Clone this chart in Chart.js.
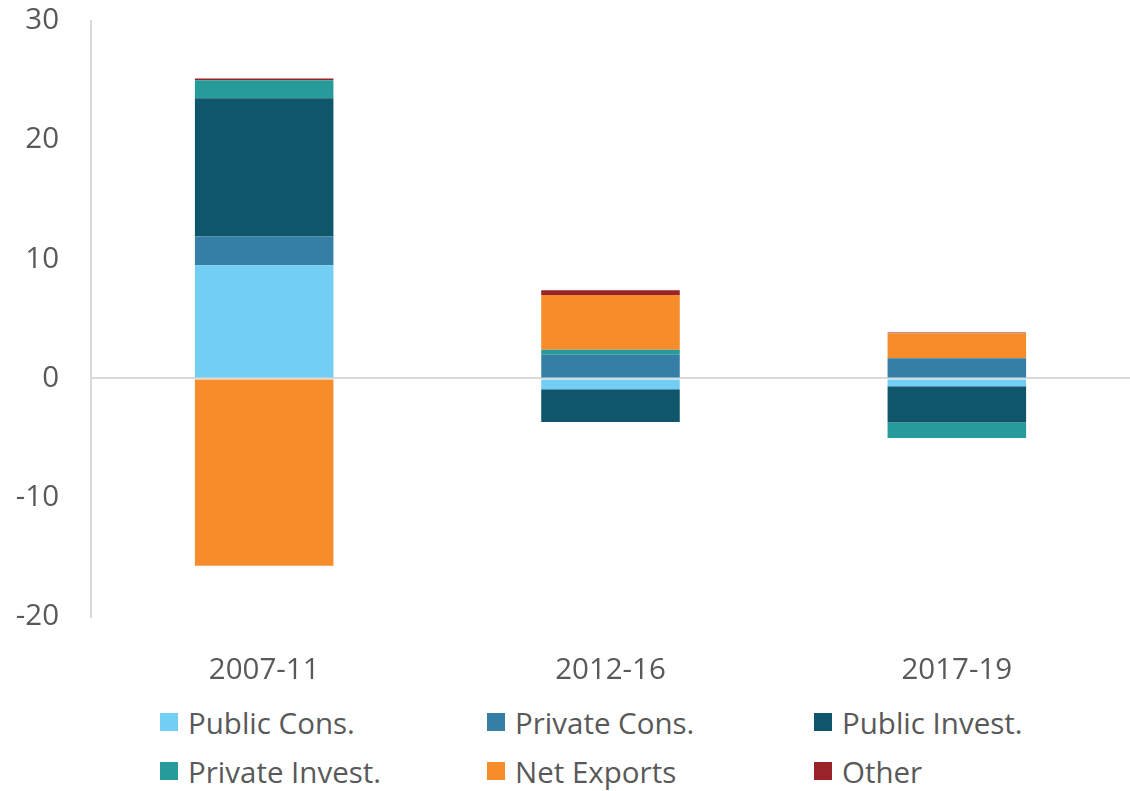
<!DOCTYPE html>
<html>
<head>
<meta charset="utf-8">
<script src="https://cdn.jsdelivr.net/npm/chart.js@4"></script>
<style>
  body { margin: 0; background: #fff; }
  #wrap { position: relative; width: 1130px; height: 791px; overflow: hidden; }
  #chart { position: absolute; left: 0; top: -29px; }
  #legend { position: absolute; left: 160px; top: 701px; display: grid;
    grid-template-columns: 327px 327px 327px; row-gap: 7px;
    font-family: "Open Sans", sans-serif; font-size: 29.5px; color: #595959; }
  .item { display: flex; align-items: center; height: 42px; }
  .box { width: 18px; height: 18px; margin-right: 10px; }
</style>
</head>
<body>
<div id="wrap">
  <canvas id="chart" width="1130" height="729"></canvas>
  <div id="legend"></div>
</div>
<script>
const periods = ['2007-11', '2012-16', '2017-19'];

const publicCons = [9.5, -0.9, -0.65];
const privateCons = [2.4, 2.0, 1.7];
const publicInvest = [11.6, -2.75, -3.05];
const privateInvest = [1.5, 0.4, -1.3];
const netExports = [-15.7, 4.6, 2.1];
const other = [0.15, 0.4, 0.05];

const names = ['Public Cons.', 'Private Cons.', 'Public Invest.', 'Private Invest.', 'Net Exports', 'Other'];
const colors = ['#72cff3', '#357ea6', '#10566b', '#279b9a', '#f68c2a', '#9a232a'];
const series = [publicCons, privateCons, publicInvest, privateInvest, netExports, other];

const yTicks = [-20, -10, 0, 10, 20, 30];

const datasets = series.map((vals, i) => ({
  label: names[i],
  data: vals,
  backgroundColor: colors[i],
  borderWidth: 0,
  barPercentage: 0.4,
  categoryPercentage: 1.0
}));

const font = { family: '"Open Sans", sans-serif', size: 29.5 };

const chart = new Chart(document.getElementById('chart').getContext('2d'), {
  type: 'bar',
  data: { labels: periods, datasets: datasets },
  options: {
    responsive: false,
    animation: false,
    layout: { padding: { top: 0, right: 0, left: 0, bottom: 0 } },
    plugins: { legend: { display: false }, tooltip: { enabled: false } },
    scales: {
      x: {
        stacked: true,
        grid: { display: false },
        border: { display: false },
        ticks: { color: '#595959', font: font, padding: 28 },
        afterFit: (s) => { s.height = 83; }
      },
      y: {
        stacked: true,
        min: -20,
        max: 30,
        afterBuildTicks: (s) => { s.ticks = yTicks.map(v => ({ value: v })); },
        grid: {
          drawTicks: false,
          lineWidth: 2,
          color: (c) => c.tick && c.tick.value === 0 ? '#d9d9d9' : 'rgba(0,0,0,0)'
        },
        border: { display: true, color: '#d9d9d9', width: 2 },
        ticks: { color: '#595959', font: font, padding: 32 },
        afterFit: (s) => { s.width = 91; }
      }
    }
  }
});

const legend = document.getElementById('legend');
chart.data.datasets.forEach(ds => {
  const item = document.createElement('div');
  item.className = 'item';
  const box = document.createElement('span');
  box.className = 'box';
  box.style.background = ds.backgroundColor;
  const txt = document.createElement('span');
  txt.textContent = ds.label;
  item.appendChild(box);
  item.appendChild(txt);
  legend.appendChild(item);
});
</script>
</body>
</html>
